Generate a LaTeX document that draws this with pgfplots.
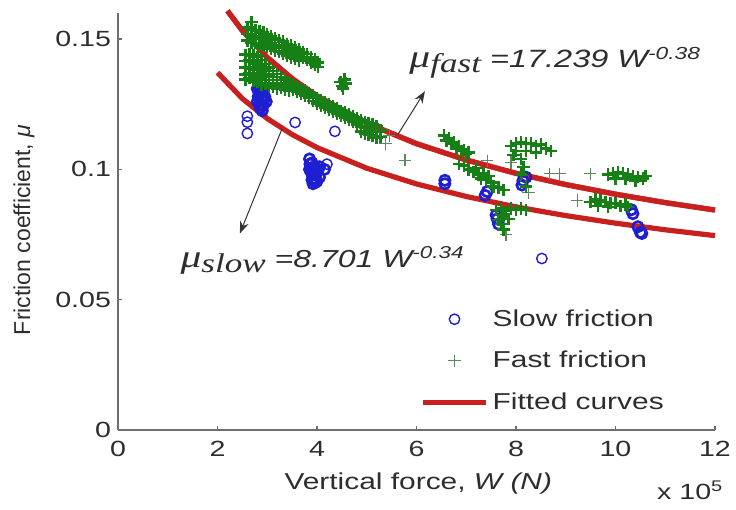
\documentclass[border=0pt]{standalone}
\usepackage{fontspec}
\setmainfont{Liberation Sans}[FakeStretch=1.3]
\newfontfamily\plainsans{Liberation Sans}
\newfontfamily\serifit{Liberation Serif}[FakeStretch=1.3]
\usepackage{pgfplots}
\pgfplotsset{compat=1.18}
\usetikzlibrary{arrows.meta}

\definecolor{fitred}{RGB}{200,32,30}
\definecolor{fastgreen}{RGB}{22,128,22}
\definecolor{fastlight}{RGB}{95,135,95}
\definecolor{slowblue}{RGB}{30,30,210}
\definecolor{axisgray}{RGB}{110,110,110}
\definecolor{txt}{RGB}{45,45,45}

% mu in the fitted-curve labels
\newcommand{\mufit}[1]{{\fontsize{16}{17}\selectfont\serifit\itshape μ}\raisebox{-2.5pt}{\fontsize{13.5}{15}\selectfont\serifit\itshape #1}}

\begin{document}
\begin{tikzpicture}
\useasboundingbox (-59pt,-40pt) rectangle (309pt,215pt);
\begin{axis}[
    at={(0,0)}, anchor=south west,
    scale only axis, width=298.5pt, height=208.5pt,
    xmin=0, xmax=12, ymin=0, ymax=0.16,
    axis x line*=bottom, axis y line*=left,
    axis line style={draw=axisgray, line width=0.8pt},
    xtick={0,2,4,6,8,10,12},
    ytick={0,0.05,0.1,0.15},
    yticklabels={0,0.05,0.1,0.15},
    tick align=inside, major tick length=2pt,
    tick style={axisgray, line width=0.6pt},
    ticklabel style={font=\fontsize{11}{13}\selectfont, text=txt},
    xticklabel style={yshift=-2pt},
    /pgf/number format/assume math mode=true,
    xlabel={Vertical force, \textit{W (N)}},
    ylabel={\plainsans Friction coefficient, \textit{μ}},
    label style={font=\fontsize{11.5}{13}\selectfont, text=txt},
    xlabel style={at={(axis description cs:0.503,0)}, anchor=center, yshift=-27pt},
    ylabel style={at={(axis description cs:0,0.48)}, anchor=center, yshift=47pt},
    clip=false,
    legend cell align=left,
    legend style={at={(axis cs:5.95,0.0495)}, anchor=north west, draw=none, fill=none,
        font=\fontsize{11.5}{13}\selectfont, text=txt, row sep=7pt},
    legend image code/.code={\draw[mark repeat=2,mark phase=2,#1] plot coordinates {(0pt,0pt) (15.75pt,0pt) (31.5pt,0pt)};},
]
% slow friction, single readings
\addplot[only marks, mark=o, mark size=2.6pt, slowblue, line width=0.7pt] coordinates {
(2.6,0.1204) (2.6,0.1181) (2.6,0.1138)
(3.56,0.118) (4.36,0.1146) (4.2,0.102)
(8.52,0.0658)
};
\addlegendentry{Slow friction}
% fast friction, single readings
\addplot[only marks, mark=+, mark size=3.1pt, fastlight, line width=0.6pt] coordinates {
(5.38,0.1100) (5.45,0.1130) (5.77,0.1035)
(7.42,0.1033) (7.9,0.1026) (8.68,0.0983) (8.88,0.0983) (9.49,0.0983)
(9.23,0.088) (7.8,0.075) (8.25,0.091)
};
\addlegendentry{Fast friction}
% fitted curves, mu = a W^b evaluated at the listed W
\addplot[fitred, line width=2.6pt] coordinates {
(2.2,0.16084) (2.5,0.15322) (3,0.14295) (3.5,0.13481) (4,0.12815) (5,0.11774)
(6,0.10986) (7,0.10361) (8,0.09848) (9,0.09417) (10,0.09048) (11,0.08724) (12,0.08440)
};
\addlegendentry{Fitted curves}
% slow friction, clustered readings
\addplot[only marks, mark=o, mark size=2.6pt, slowblue, line width=1.3pt, forget plot] coordinates {
(2.8,0.131) (2.85,0.1315) (2.9,0.130) (2.82,0.128) (2.88,0.127) (2.95,0.128)
(2.85,0.125) (2.92,0.1245) (2.98,0.126) (2.8,0.126) (2.9,0.1225)
(2.84,0.129) (2.87,0.1295) (2.93,0.1265) (2.86,0.1235) (2.9,0.128) (2.82,0.1305)
(3.85,0.104) (3.9,0.1025) (3.95,0.101) (3.85,0.100) (3.9,0.098) (4.0,0.099)
(3.95,0.0965) (4.0,0.0955) (4.05,0.097) (3.92,0.0945) (4.15,0.100) (4.05,0.101)
(3.88,0.1005) (3.93,0.0995) (3.97,0.098) (4.02,0.1) (3.9,0.096) (3.97,0.095) (3.86,0.102)
(6.57,0.0958) (6.57,0.0945)
(7.42,0.0915) (7.38,0.090)
(7.62,0.081) (7.65,0.079) (7.6,0.0825)
(8.14,0.0957) (8.2,0.097) (8.12,0.094)
(10.35,0.083) (10.32,0.0845) (10.45,0.078) (10.5,0.0758) (10.53,0.0754)
};
% fast friction, clustered readings
\addplot[only marks, mark=+, mark size=3.1pt, fastgreen, line width=1.25pt, forget plot] coordinates {
(2.60,0.1545) (2.60,0.1520) (2.60,0.1495)
(2.68,0.1565) (2.68,0.1535) (2.68,0.1510) (2.68,0.1485)
(2.76,0.1535) (2.76,0.1510) (2.76,0.1485)
(2.84,0.1530) (2.84,0.1505) (2.84,0.1480)
(2.92,0.1525) (2.92,0.1500) (2.92,0.1475)
(3.00,0.1518) (3.00,0.1493) (3.00,0.1470)
(3.08,0.1510) (3.08,0.1485) (3.08,0.1462)
(3.16,0.1503) (3.16,0.1478) (3.16,0.1455)
(3.24,0.1497) (3.24,0.1472) (3.24,0.1450)
(3.32,0.1490) (3.32,0.1465) (3.32,0.1443)
(3.40,0.1482) (3.40,0.1458) (3.40,0.1436)
(3.48,0.1475) (3.48,0.1450) (3.48,0.1430)
(3.56,0.1468) (3.56,0.1443) (3.56,0.1424)
(3.64,0.1460) (3.64,0.1436) (3.64,0.1418)
(3.72,0.1450) (3.72,0.1428)
(3.80,0.1442) (3.80,0.1420)
(3.88,0.1432) (3.88,0.1410)
(3.96,0.1422) (3.96,0.1400)
(4.02,0.1410) (4.02,0.1392)
(2.56,0.1440) (2.56,0.1415) (2.56,0.1390) (2.56,0.1365) (2.56,0.1345)
(2.64,0.1442) (2.64,0.1417) (2.64,0.1392) (2.64,0.1367) (2.64,0.1350)
(2.72,0.1437) (2.72,0.1412) (2.72,0.1387) (2.72,0.1362) (2.72,0.1340)
(2.80,0.1432) (2.80,0.1407) (2.80,0.1382) (2.80,0.1357) (2.80,0.1335)
(2.88,0.1420) (2.88,0.1395) (2.88,0.1370) (2.88,0.1345) (2.88,0.1325)
(2.96,0.1405) (2.96,0.1380) (2.96,0.1355) (2.96,0.1330)
(3.04,0.1390) (3.04,0.1365) (3.04,0.1342) (3.04,0.1322)
(3.12,0.1378) (3.12,0.1354) (3.12,0.1332) (3.12,0.1315)
(3.20,0.1366) (3.20,0.1343) (3.20,0.1322) (3.20,0.1310)
(3.28,0.1355) (3.28,0.1332) (3.28,0.1312)
(3.36,0.1345) (3.36,0.1322) (3.36,0.1305)
(3.44,0.1335) (3.44,0.1314) (3.44,0.1300)
(3.52,0.1325) (3.52,0.1305)
(3.60,0.1318) (3.60,0.1297)
(3.68,0.1310) (3.68,0.1290)
(3.76,0.1302) (3.76,0.1282)
(3.84,0.1293) (3.84,0.1273)
(3.92,0.1283) (3.92,0.1263)
(4.00,0.1273) (4.00,0.1253)
(4.08,0.1265) (4.08,0.1245)
(4.16,0.1258) (4.16,0.1238)
(4.24,0.1250) (4.24,0.1230)
(4.32,0.1242) (4.32,0.1222)
(4.40,0.1233) (4.40,0.1213)
(4.48,0.1225) (4.48,0.1205)
(4.56,0.1218) (4.56,0.1198)
(4.64,0.1210) (4.64,0.1190)
(4.72,0.1203) (4.72,0.1182)
(4.80,0.1195) (4.80,0.1173)
(4.88,0.1188) (4.88,0.1165) (4.88,0.1145)
(4.96,0.1182) (4.96,0.1160) (4.96,0.1138)
(5.04,0.1178) (5.04,0.1155) (5.04,0.1132)
(5.12,0.1172) (5.12,0.1150) (5.12,0.1128)
(5.20,0.1166) (5.20,0.1145) (5.20,0.1120)
(5.28,0.1150) (5.28,0.1125)
(4.47,0.1335) (4.55,0.1345) (4.5,0.1320) (4.58,0.1330) (4.52,0.1310)
(6.55,0.113) (6.6,0.111) (6.65,0.112) (6.7,0.110) (6.75,0.1105) (6.8,0.108)
(6.85,0.109) (6.9,0.107) (6.95,0.1075) (7.0,0.106) (7.05,0.1065)
(6.85,0.102) (6.95,0.1015) (7.05,0.100) (7.15,0.099) (7.25,0.098) (7.3,0.0965)
(7.4,0.096) (7.5,0.095) (7.55,0.0935) (7.65,0.093) (7.75,0.092) (7.2,0.1005)
(7.35,0.0985) (7.45,0.0975)
(7.9,0.109) (8.0,0.110) (8.1,0.1105) (8.2,0.110) (8.3,0.110) (8.4,0.109)
(8.5,0.1095) (8.6,0.108) (8.7,0.107) (8.0,0.107) (8.2,0.107) (8.4,0.1065)
(8.1,0.104) (8.15,0.101) (8.1,0.098) (8.2,0.0935) (7.95,0.1055)
(7.6,0.0845) (7.7,0.085) (7.8,0.084) (7.9,0.085) (8.0,0.0845) (8.1,0.085)
(8.2,0.0845) (7.75,0.082) (7.85,0.081) (7.7,0.079) (7.75,0.077) (7.65,0.0805)
(9.85,0.098) (9.95,0.0985) (10.05,0.099) (10.15,0.0985) (10.25,0.098) (10.35,0.0975)
(10.45,0.097) (10.55,0.0965) (10.6,0.0975) (10.0,0.0965) (10.2,0.0965) (10.4,0.0955)
(9.5,0.0875) (9.6,0.0885) (9.7,0.088) (9.8,0.0875) (9.9,0.087) (10.0,0.087)
(10.1,0.086) (10.2,0.0865) (10.25,0.0855) (9.65,0.086) (9.85,0.0855)
};
\addplot[fitred, line width=2.6pt, forget plot] coordinates {
(2.2,0.16084) (2.5,0.15322) (3,0.14295) (3.5,0.13481) (4,0.12815) (5,0.11774)
(6,0.10986) (7,0.10361) (8,0.09848) (9,0.09417) (10,0.09048) (11,0.08724) (12,0.08440)
};
\addplot[fitred, line width=2.6pt, forget plot] coordinates {
(2,0.13715) (2.5,0.12714) (3,0.11950) (3.5,0.11338) (4,0.10837) (5,0.10045)
(6,0.09441) (7,0.08960) (8,0.08561) (9,0.08226) (10,0.07936) (11,0.07682) (12,0.07458)
};
% annotations
\draw[-{Stealth[length=6pt,width=4.5pt]}, black!80, line width=0.5pt] (axis cs:5.63,0.1135) -- (axis cs:6.17,0.130);
\draw[-{Stealth[length=6pt,width=4.5pt]}, black!80, line width=0.5pt] (axis cs:3.3,0.1157) -- (axis cs:2.45,0.0754);
\node[anchor=base west, text=txt, font=\fontsize{12.5}{14}\selectfont\itshape, inner sep=0pt] at (axis cs:5.85,0.1389)
  {\mufit{fast} =17.239 W\textsuperscript{-0.38}};
\node[anchor=base west, text=txt, font=\fontsize{12.3}{14}\selectfont\itshape, inner sep=0pt] at (axis cs:1.25,0.0624)
  {\mufit{slow} =8.701 W\textsuperscript{-0.34}};
\node[anchor=base west, text=txt, font=\fontsize{11}{13}\selectfont, inner sep=0pt] at (axis cs:10.83,-0.0265)
  {x 10\textsuperscript{5}};
\end{axis}
\end{tikzpicture}
\end{document}
